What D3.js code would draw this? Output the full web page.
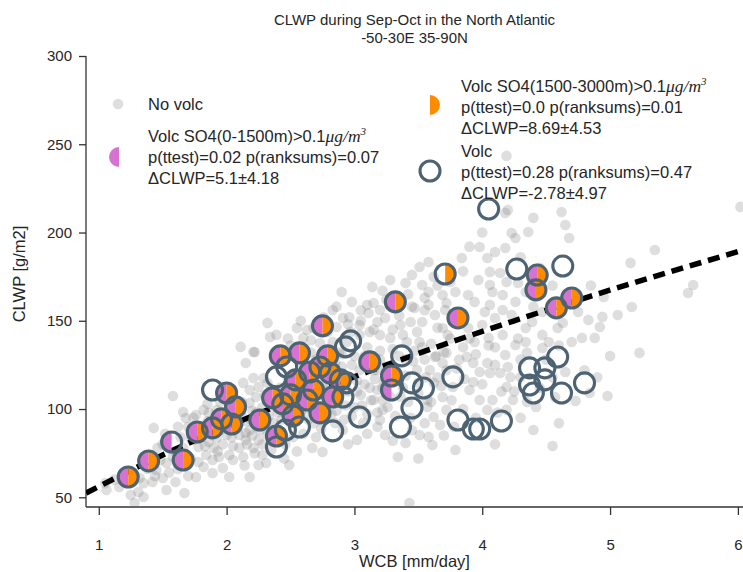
<!DOCTYPE html>
<html>
<head>
<meta charset="utf-8">
<script src="https://cdn.jsdelivr.net/npm/d3@7"></script>
<style>
  body { margin: 0; background: #fff; }
  text { font-family: "Liberation Sans", Arial, sans-serif; fill: #262626; }
</style>
</head>
<body>
<svg id="chart" width="743" height="572"></svg>
<script>
// ---- data -------------------------------------------------------------
const xTicks = [1, 2, 3, 4, 5, 6];
const yTicks = [50, 100, 150, 200, 250, 300];

// Days without volcanic influence: [WCB mm/day, CLWP g/m2]
const noVolc = [
  [6.02,214.5],[4.19,243.4],[3.43,46.8],[5.23,131.8],[5.35,190.1],[5.16,182.8],[5.65,170.3],[5.61,165.7],
  [5.06,153.3],[5.17,157.8],[4.94,152.2],[4.92,146.5],[4.88,140.3],[4.62,211.6],[4.65,204.3],[4.68,196.9],
  [4.95,163.5],[4.98,107.4],[4.40,88.1],[4.55,79.1],[4.73,104.6],[4.42,101.2],[4.65,121.0],[4.57,106.8],[4.84,109.1],
  [4.18,211.1],[4.20,212.8],[4.40,208.3],[4.23,199.7],[4.26,196.9],[4.36,200.3],[4.18,191.2],[3.98,191.8],
  [4.04,185.6],[3.84,185.6],[3.58,183.3],[3.51,180.5],[4.06,177.7],[3.97,173.1],[4.06,170.3],[4.14,177.1],
  [4.19,172.0],[4.28,171.4],[4.34,166.3],[4.16,164.6],[4.26,160.7],[4.16,156.1],[4.06,159.0],[3.94,160.7],
  [3.89,164.6],[3.79,166.3],[3.69,164.6],[3.58,166.3],[3.53,170.3],[3.58,159.0],[3.71,156.1],[3.63,153.3],
  [3.53,149.3],[3.51,138.0],[3.69,145.9],[3.73,142.0],[3.89,145.9],[4.00,147.6],[4.02,155.0],[3.94,138.0],
  [4.05,140.3],[4.16,142.0],[4.34,145.9],[4.34,138.0],[4.47,142.0],[4.47,134.6],[4.59,145.9],[4.52,138.0],
  [4.70,138.0],[4.78,140.3],[4.83,150.5],[4.63,148.8],[4.26,136.3],[4.39,149.3],[4.47,155.0],[4.10,151.6],
  [4.23,153.3],[4.08,166.3],
  [2.32,148.8],[2.11,135.2],[2.22,132.3],[2.34,140.8],[2.39,142.0],[2.55,145.9],[2.63,144.8],[2.60,140.3],
  [2.83,156.1],[2.91,151.6],[2.86,146.5],[2.98,160.7],[2.90,166.3],[3.14,169.2],[3.28,173.1],[3.40,171.4],
  [3.10,159.0],[3.15,160.1],[3.11,154.4],[3.20,156.1],[3.18,149.3],[3.24,151.6],[3.36,147.6],[3.44,149.3],
  [3.47,157.3],[3.49,143.7],[3.04,147.6],[3.04,142.0],[3.12,143.7],[3.20,142.0],[3.28,140.3],[2.97,143.7],
  [2.94,138.0],[2.73,137.4],[2.83,138.0],[3.38,142.0],[3.41,138.0],[2.79,143.7],
  [1.58,107.4],[1.43,89.3],[1.66,98.3],[1.68,94.9],[1.76,96.6],[1.82,99.5],[1.86,97.8],[1.92,99.5],
  [1.74,82.5],[1.78,78.5],[1.86,81.3],[1.92,83.6],[2.00,85.3],[2.10,85.3],[2.15,86.4],[1.84,74.0],
  [1.89,71.1],[1.94,72.8],[1.97,66.6],[2.02,61.5],[1.89,63.8],[1.76,61.5],[1.82,67.2],[1.68,69.4],
  [1.53,69.4],[1.50,60.9],[1.42,58.7],[1.53,54.1],[1.35,50.2],[1.25,51.3],[1.31,53.0],[1.67,52.4],
  [1.60,58.7],[1.45,65.5],[2.05,71.1],[2.13,72.8],[2.18,61.5],[2.25,68.3],[2.31,69.4],[2.21,77.9],
  [2.15,82.5],[2.25,82.5],[2.32,85.3],[2.36,88.1],[2.49,68.3],[2.18,103.4],[2.23,106.8],[2.18,110.8],
  [2.13,114.8],[2.21,117.6],[2.29,117.6],[2.32,114.8],[2.25,112.5],[2.15,126.1],[2.21,132.3],[1.06,54.1],
  [1.16,55.8],[1.28,46.8],
  [3.63,129.5],[3.72,131.8],[3.88,129.5],[3.93,126.1],[4.04,126.1],[3.98,121.0],[4.06,120.4],[4.14,120.4],
  [4.20,123.8],[4.18,130.6],[3.93,115.3],[3.90,110.8],[3.98,105.1],[4.08,105.1],[4.04,99.5],[4.19,112.5],
  [4.24,105.1],[4.19,99.5],[3.69,106.8],[3.72,99.5],[3.62,95.5],[3.67,91.0],[3.57,101.2],[3.77,112.5],
  [3.22,105.1],[3.22,99.5],[3.20,93.8],[3.15,105.1],[3.24,85.3],[3.40,80.8],[3.51,85.3],[3.58,84.2],
  [3.61,79.6],[3.34,72.8],[3.79,76.8],[3.02,82.5],[2.91,88.1],[2.67,77.9],[2.75,75.7],[3.07,92.1],
  [3.18,110.8],[3.18,122.1],[3.49,122.1],[3.59,122.1],[3.57,105.1],[3.62,114.8],[3.69,126.1],
  [1.95,104],[2.02,108],[2.08,97],[2.12,104],[2.16,93],[2.20,99],[2.24,90],[2.28,101],[2.30,95],[2.34,104],
  [2.37,92],[2.40,98],[2.42,112],[2.45,108],[2.48,100],[2.50,92],[2.53,113],[2.56,104],[2.58,98],[2.60,119],
  [2.62,111],[2.64,94],[2.67,102],[2.70,115],[2.72,108],[2.74,89],[2.77,120],[2.80,112],[2.82,97],[2.85,126],
  [2.87,104],[2.90,118],[2.92,94],[2.95,110],[2.98,125],[3.00,101],[3.02,116],[3.05,108],[3.08,130],[3.10,97],
  [3.12,112],[3.15,122],[3.18,90],[3.20,128],[3.23,115],[3.26,101],[3.30,134],[3.33,121],[3.36,107],[3.40,128],
  [3.44,95],[3.47,133],[3.50,115],[3.55,128],[3.60,137],[3.65,118],[3.70,132],[3.75,140],[3.80,123],[3.85,135],
  [1.32,61],[1.40,74],[1.46,78],[1.52,86],[1.60,76],[1.64,84],[1.70,90],[1.72,72],[1.80,88],[1.85,93],
  [1.90,78],[1.98,90],[2.05,79],[2.10,92],[2.18,88],[2.22,75],[2.28,80],[2.35,77],
  [2.45,128],[2.50,136],[2.58,131],[2.66,139],[2.70,128],[2.78,133],[2.90,131],[2.96,152],[3.05,150],[3.25,162],
  [3.30,145],[3.45,158],[3.55,163],[3.62,175],[3.75,172],[3.85,178],[3.90,192],[4.00,200],[4.10,189],[4.30,186],
  [4.45,180],[4.55,170],[4.60,160],[4.75,155],[4.85,170],[4.40,158],[4.30,128],[4.10,135],[3.95,95],[4.30,95],
  [3.70,85],[3.50,72],[4.10,80],[4.60,92],[4.80,122],[5.00,130],[4.90,118],[1.12,60],[1.20,64],[1.05,58],
  [1.35,58],[1.38,66],[1.44,62],[1.48,71],[1.50,80],[1.55,64],[1.58,73],[1.62,66],[1.62,90],[1.66,78],
  [1.70,62],[1.72,83],[1.74,95],[1.78,70],[1.80,84],[1.83,79],[1.85,103],[1.88,86],[1.90,92],[1.93,76],
  [1.95,88],[1.97,80],[2.00,95],[2.02,74],[2.04,84],[2.06,102],[2.08,90],[2.10,78],[2.12,96],[2.14,68],
  [2.16,80],[2.19,94],[2.20,85],[2.23,98],[2.26,88],[2.28,74],[2.30,108],[2.33,96],[2.35,82],[2.38,101],
  [2.40,88],[2.43,94],[2.46,80],[2.48,116],[2.50,97],[2.52,84],
  [2.55,120],[2.58,110],[2.60,126],[2.62,100],[2.64,116],[2.66,132],[2.68,92],[2.70,122],[2.72,102],[2.75,112],
  [2.78,96],[2.80,125],[2.82,118],[2.84,108],[2.86,99],[2.88,132],[2.90,124],[2.93,102],[2.96,118],[2.98,96],
  [3.00,130],[3.02,110],[3.04,122],[3.06,102],[3.08,114],[3.10,135],[3.13,105],[3.16,117],[3.18,98],[3.20,133],
  [3.22,112],[3.25,124],[3.28,107],[3.30,117],[3.32,96],[3.35,130],[3.38,112],[3.40,119],[3.42,104],[3.46,127],
  [3.50,109],[3.53,135],[3.56,118],[3.60,104],[3.64,130],[3.68,113],[3.72,122],[3.76,105],[3.82,128],[3.86,117],
  [3.90,140],[3.95,131],[4.00,114],[4.05,136],[4.10,125],[4.15,110],[4.22,118],[4.28,140],[4.35,132],[4.12,98],
  [3.85,100],[3.78,90],[3.55,92],[3.45,88],[3.30,82],[3.10,86],[2.95,80],[2.85,92],[2.60,86],[2.55,76],
  [2.45,72],[2.70,84],
  [2.48,140],[2.58,150],[2.68,146],[2.76,152],[2.86,158],[2.95,148],[3.05,156],[3.15,145],[3.22,167],[3.35,153],
  [3.42,165],[3.55,156],[3.65,146],[3.72,160],[3.80,150],[3.65,170],[3.45,176],
  [4.30,118],[4.45,112],[4.50,128],[4.55,118],[4.35,104],[4.60,136],[4.25,110]
];

// Volcanic days: [WCB, CLWP, SO4 0-1500m flag, SO4 1500-3000m flag]
const volc = [
  [1.23,61.5,1,1],[1.39,70.6,1,1],[1.66,71.1,1,1],[1.57,81.3,1,0],[1.77,87.0,1,1],[1.89,89.3,1,1],
  [1.96,94.4,1,1],[2.04,91.5,1,1],[2.07,101.2,1,1],[2.00,109.1,1,1],[1.89,110.8,0,0],[2.26,93.8,1,1],
  [2.42,130.1,1,1],[2.57,131.8,1,1],[2.79,130.1,1,1],[2.73,123.8,1,1],[2.81,120.4,1,1],[2.47,123.8,0,0],
  [2.39,118.2,0,0],[2.54,116.5,1,1],[2.36,106.3,1,1],[2.44,102.9,1,1],[2.52,96.1,1,1],[2.39,84.7,1,1],
  [2.39,78.5,0,0],[2.57,89.8,0,0],[2.68,110.8,1,1],[2.73,97.8,1,1],[2.83,106.8,1,1],[2.91,106.8,0,0],
  [2.94,114.8,0,0],[2.63,105.1,1,1],[2.83,87.6,0,0],[3.04,95.5,0,0],[2.75,147.1,1,1],[2.97,138.6,0,0],
  [2.93,135.2,0,0],[3.12,126.7,1,1],[3.29,118.7,1,1],[3.29,110.8,1,0],[3.37,130.1,0,0],[3.32,160.7,1,1],
  [3.45,114.8,0,0],[3.54,111.9,0,0],[3.45,100.6,0,0],[3.36,89.8,0,0],[2.50,108.0,1,1],[2.65,121.0,1,1],
  [2.89,116.5,1,1],[2.46,88.1,0,0],
  [3.77,118.2,0,0],[3.81,93.8,0,0],[3.93,88.7,0,0],[3.98,88.7,0,0],[4.15,93.2,0,0],[3.81,151.6,1,1],
  [3.71,176.5,0,1],[4.05,213.3,0,0],[4.27,179.3,0,0],[4.43,175.9,1,1],[4.42,167.5,1,1],[4.63,181.0,0,0],
  [4.70,162.9,1,1],[4.58,157.3,1,1],[4.59,129.5,0,0],[4.37,123.3,0,0],[4.49,123.3,0,0],[4.37,113.6,0,0],
  [4.49,116.5,0,0],[4.40,109.1,0,0],[4.62,109.1,0,0],[4.80,114.8,0,0]
];

// Fitted CLWP–WCB relation, sampled along the x range
const fitCurve = [[0.9,52.4],[1.5,74],[2.2,96],[3.1,121],[3.6,134],[4.25,150],[4.85,164],[6.04,190]];

const titleLines = ["CLWP during Sep-Oct in the North Atlantic", "-50-30E 35-90N"];
const legendEntries = [
  {label: ["Volc SO4(0-1500m)>0.1", "p(ttest)=0.02 p(ranksums)=0.07", "\u0394CLWP=5.1\u00B14.18"]},
  {label: ["Volc SO4(1500-3000m)>0.1", "p(ttest)=0.0 p(ranksums)=0.01", "\u0394CLWP=8.69\u00B14.53"]},
  {label: ["Volc", "p(ttest)=0.28 p(ranksums)=0.47", "\u0394CLWP=-2.78\u00B14.97"]}
];

// ---- layout -----------------------------------------------------------
const svg = d3.select("#chart");
const plot = {left: 86, right: 743, top: 56, bottom: 507};
const x = d3.scaleLinear().domain([0.9, 6.04]).range([plot.left, plot.right]);
const y = d3.scaleLinear().domain([44.5, 300]).range([plot.bottom, plot.top]);

const PURPLE = "#d872d2", ORANGE = "#ff8c00", EDGE = "#4d6373";
const R = 10;
const SW = 3.1;

svg.append("defs").append("clipPath").attr("id", "clip")
  .append("rect").attr("x", plot.left).attr("y", 0)
  .attr("width", plot.right - plot.left + 10).attr("height", plot.bottom);

// title
svg.append("text").attr("x", (plot.left + plot.right) / 2).attr("y", 25)
  .attr("text-anchor", "middle").style("font-size", "15px").text(titleLines[0]);
svg.append("text").attr("x", (plot.left + plot.right) / 2).attr("y", 43)
  .attr("text-anchor", "middle").style("font-size", "15px").text(titleLines[1]);

// axes
const xAxis = svg.append("g").attr("transform", `translate(0,${plot.bottom})`)
  .call(d3.axisBottom(x).tickValues(xTicks).tickFormat(d3.format("d")).tickSize(8).tickPadding(24));
const yAxis = svg.append("g").attr("transform", `translate(${plot.left},0)`)
  .call(d3.axisLeft(y).tickValues(yTicks).tickSize(7).tickPadding(7));
[xAxis, yAxis].forEach(g => {
  g.select(".domain").attr("stroke", "#333").attr("stroke-width", 1.3);
  g.selectAll(".tick line").attr("stroke", "#333").attr("stroke-width", 1.3);
  g.selectAll(".tick text").style("font-size", "15px").attr("fill", "#333")
    .style("font-family", '"Liberation Sans", Arial, sans-serif');
});
// full-length spines
xAxis.select(".domain").attr("d", `M${plot.left},0H${plot.right}`);
yAxis.select(".domain").attr("d", `M0,${plot.top}V${plot.bottom}`);

svg.append("text").attr("x", (plot.left + plot.right) / 2).attr("y", 567)
  .attr("text-anchor", "middle").style("font-size", "16.5px").text("WCB [mm/day]");
svg.append("text").attr("transform", `translate(25,274) rotate(-90)`)
  .attr("text-anchor", "middle").style("font-size", "16.5px").text("CLWP [g/m2]");

const g = svg.append("g").attr("clip-path", "url(#clip)");

// background cloud of days without volcanic influence
g.append("g").selectAll("circle").data(noVolc).join("circle")
  .attr("cx", d => x(d[0])).attr("cy", d => y(d[1])).attr("r", 5.3)
  .attr("fill", "#777").attr("fill-opacity", 0.24);

// fitted relation
g.append("path").datum(fitCurve)
  .attr("d", d3.line().x(d => x(d[0])).y(d => y(d[1])).curve(d3.curveMonotoneX))
  .attr("fill", "none").attr("stroke", "#000").attr("stroke-width", 5.5)
  .attr("stroke-dasharray", "12,7");

// half-filled markers for SO4 layers, then outlines for every volcanic day
const leftHalf = d3.arc()({innerRadius: 0, outerRadius: R, startAngle: Math.PI, endAngle: 2 * Math.PI});
const rightHalf = d3.arc()({innerRadius: 0, outerRadius: R, startAngle: 0, endAngle: Math.PI});

g.append("g").selectAll("path").data(volc.filter(d => d[2])).join("path")
  .attr("transform", d => `translate(${x(d[0])},${y(d[1])})`).attr("d", leftHalf).attr("fill", PURPLE);
g.append("g").selectAll("path").data(volc.filter(d => d[3])).join("path")
  .attr("transform", d => `translate(${x(d[0])},${y(d[1])})`).attr("d", rightHalf).attr("fill", ORANGE);
g.append("g").selectAll("circle").data(volc).join("circle")
  .attr("cx", d => x(d[0])).attr("cy", d => y(d[1])).attr("r", R)
  .attr("fill", "none").attr("stroke", EDGE).attr("stroke-width", SW);

// ---- legend -----------------------------------------------------------
const leg = svg.append("g").style("font-size", "16.5px");
leg.append("circle").attr("cx", 118).attr("cy", 104).attr("r", 5.3)
  .attr("fill", "#777").attr("fill-opacity", 0.24);
leg.append("text").attr("x", 148).attr("y", 104).attr("dy", "0.35em").text("No volc");

function block(lines, tx, y0) {
  lines.forEach((s, i) => {
    const t = leg.append("text").attr("x", tx).attr("y", y0 + i * 21).attr("dy", "0.35em");
    t.append("tspan").text(s);
    if (i === 0 && s.indexOf("SO4") >= 0) {
      t.append("tspan").style("font-family", '"Liberation Serif", serif').style("font-style", "italic")
        .style("font-size", "17.5px").text("\u03BCg/m");
      t.append("tspan").style("font-family", '"Liberation Serif", serif').style("font-style", "italic")
        .style("font-size", "11px").attr("dy", "-0.6em").text("3");
    }
  });
}
block(legendEntries[0].label, 148, 136);
leg.append("path").attr("transform", "translate(119,157)")
  .attr("d", d3.arc()({innerRadius: 0, outerRadius: 10, startAngle: Math.PI, endAngle: 2 * Math.PI}))
  .attr("fill", PURPLE);

block(legendEntries[1].label, 461, 86);
leg.append("path").attr("transform", "translate(430,105)")
  .attr("d", d3.arc()({innerRadius: 0, outerRadius: 10, startAngle: 0, endAngle: Math.PI}))
  .attr("fill", ORANGE);

block(legendEntries[2].label, 461, 151);
leg.append("circle").attr("cx", 430).attr("cy", 171).attr("r", R)
  .attr("fill", "none").attr("stroke", EDGE).attr("stroke-width", SW);
</script>
</body>
</html>
